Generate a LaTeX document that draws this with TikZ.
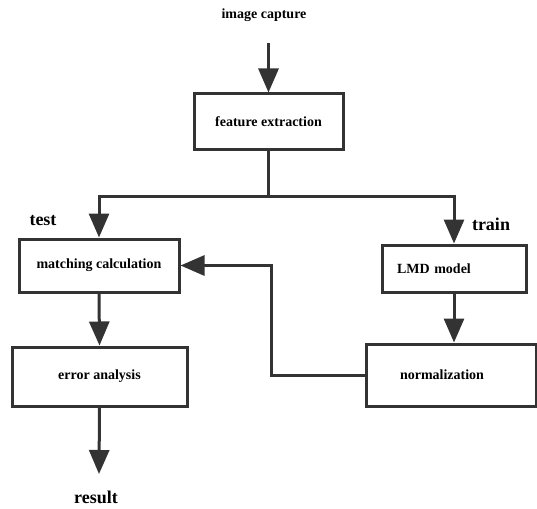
\documentclass[tikz,border=0pt]{standalone}
\usepackage{fontspec}
\setmainfont{Liberation Serif}
\usetikzlibrary{arrows.meta}
\definecolor{ink}{HTML}{333333}
\begin{document}
\begin{tikzpicture}[x=1pt,y=-1pt,
  box/.style={draw=ink,line width=3pt,fill=white,inner sep=0pt,
    font=\fontsize{14}{16}\selectfont\bfseries},
  lbl/.style={inner sep=0pt,font=\fontsize{14}{16}\selectfont\bfseries},
  biglbl/.style={inner sep=0pt,font=\fontsize{18}{20}\selectfont\bfseries},
  conn/.style={draw=ink,line width=3pt},
  arr/.style={conn,-{Triangle[length=24pt,width=20pt]}}]
\useasboundingbox (0,0) rectangle (537,508);
% nodes
\node[lbl] (cap) at (264,15) {image capture};
\node[box,minimum width=149pt,minimum height=55pt] (fe) at (268.5,121.5) {feature extraction};
\node[box,minimum width=160pt,minimum height=53pt] (mc) at (99,265.5) {matching calculation};
\node[box,minimum width=144pt,minimum height=47pt,text width=114pt,align=left,inner xsep=15pt] (lmd) at (454,268.5) {LMD model};
\node[box,minimum width=175pt,minimum height=59pt] (er) at (99.5,376.5) {error analysis};
\node[box,minimum width=170pt,minimum height=62pt,text width=102pt,align=left,inner xsep=34pt] (nm) at (451,375) {normalization};
\node[biglbl] (test) at (43,221) {test};
\node[biglbl] (train) at (491,224) {train};
\node[biglbl] (res) at (96,497) {result};
% helper coordinates
\coordinate (c0) at (268.5,43);
\coordinate (j) at (268.5,196);
\coordinate (r) at (99,474);
% connectors
\draw[arr] (c0) -- (fe.north);
\draw[conn] (fe.south) -- (j);
\draw[arr] (j) -| (mc.north);
\draw[arr] (j) -| (lmd.north);
\draw[arr] (mc.south) -- (er.north);
\draw[arr] (lmd.south) -- (lmd.south |- nm.north);
\draw[arr] (er.south) -- (r);
\draw[arr] (nm.west) -- ++(-93,0) |- (mc.east);
\end{tikzpicture}
\end{document}
